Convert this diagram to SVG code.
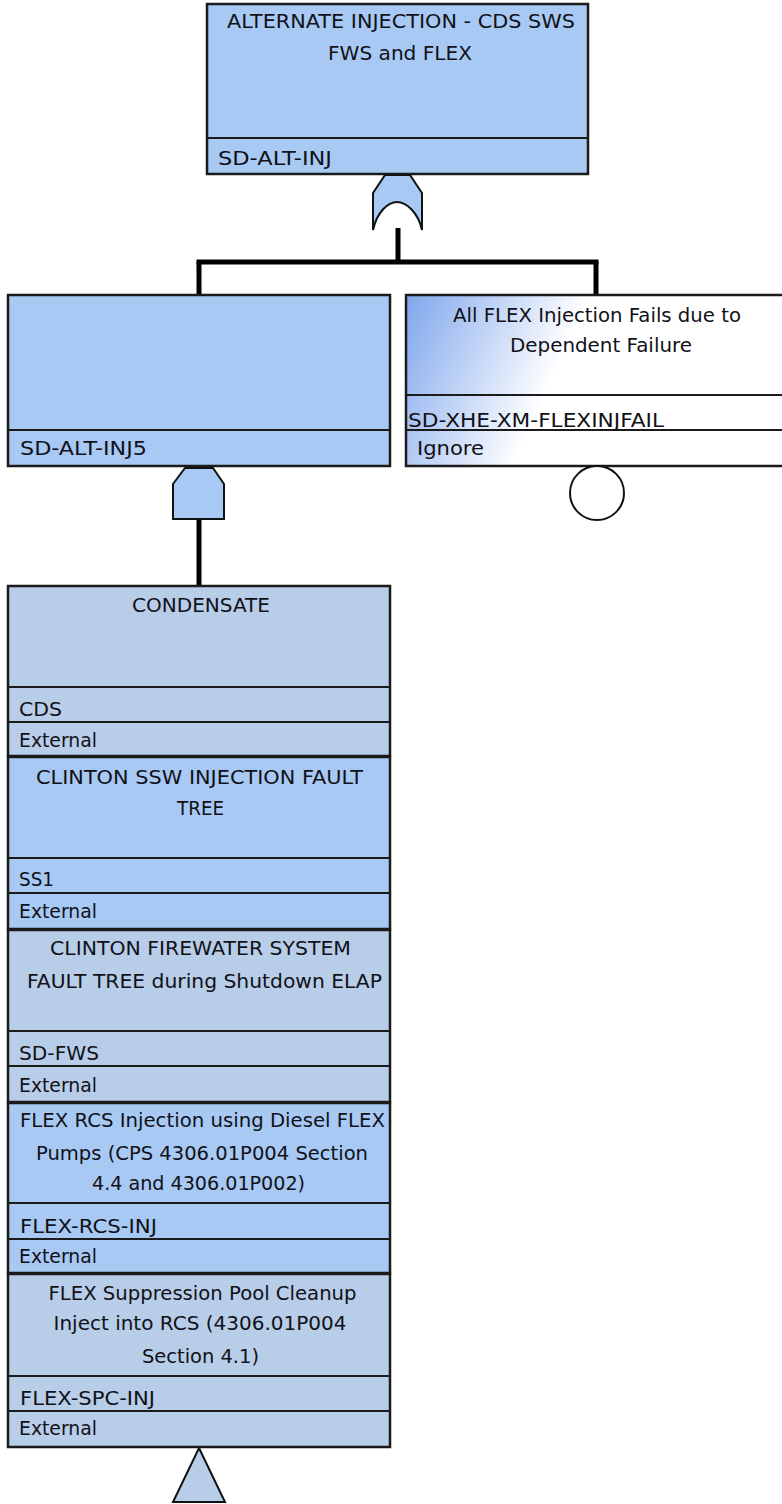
<svg xmlns="http://www.w3.org/2000/svg" width="782" height="1504" viewBox="0 0 782 1504">
<defs>
<linearGradient id="fade" gradientUnits="userSpaceOnUse" x1="406" y1="295" x2="560" y2="362">
<stop offset="0" stop-color="#7fa6ec"/>
<stop offset="1" stop-color="#ffffff"/>
</linearGradient>
<style>
.box{stroke:#1b1b1b;stroke-width:2.5}
.blue{fill:#a7c9f3}
.gray{fill:#b7cde8}
.div{stroke:#1b1b1b;stroke-width:2;fill:none}
.t{font-family:"DejaVu Sans",Verdana,sans-serif;font-size:20px;fill:#111118}
.c{text-anchor:middle}
.gate{stroke:#111;stroke-width:2}
.con{stroke:#000;stroke-width:5;fill:none;stroke-linecap:butt}
</style>
</defs>
<rect width="782" height="1504" fill="#ffffff"/>

<g id="connectors">
<line class="con" x1="398" y1="228" x2="398" y2="262"/>
<line class="con" x1="196.5" y1="262" x2="598.5" y2="262"/>
<line class="con" x1="199" y1="262" x2="199" y2="294"/>
<line class="con" x1="596" y1="262" x2="596" y2="294"/>
<line class="con" x1="199" y1="519" x2="199" y2="586"/>
</g>

<g id="node-sd-alt-inj">
<rect class="box blue" x="207" y="4" width="381" height="170"/>
<line class="div" x1="207" y1="138" x2="588" y2="138"/>
<text class="t c" x="401" y="28" textLength="348" lengthAdjust="spacingAndGlyphs">ALTERNATE INJECTION - CDS SWS</text>
<text class="t c" x="400" y="60" textLength="144" lengthAdjust="spacingAndGlyphs">FWS and FLEX</text>
<text class="t" x="218" y="165" textLength="114" lengthAdjust="spacingAndGlyphs">SD-ALT-INJ</text>
<path class="gate blue" d="M385,175 L410,175 L422,193 L422,230 C418,212 406,202 397,202 C388,202 377,212 373,230 L373,193 Z"/>
</g>

<g id="node-sd-alt-inj5">
<rect class="box blue" x="8" y="295" width="382" height="171"/>
<line class="div" x1="8" y1="430" x2="390" y2="430"/>
<text class="t" x="20" y="455" textLength="127" lengthAdjust="spacingAndGlyphs">SD-ALT-INJ5</text>
<path class="gate blue" d="M185,468 L213,468 L224,484 L224,519 L173,519 L173,484 Z"/>
</g>

<g id="node-sd-xhe-xm-flexinjfail">
<rect class="box" fill="url(#fade)" x="406" y="295" width="384" height="171"/>
<line class="div" x1="406" y1="395" x2="790" y2="395"/>
<line class="div" x1="406" y1="430" x2="790" y2="430"/>
<text class="t c" x="597" y="322" textLength="288" lengthAdjust="spacingAndGlyphs">All FLEX Injection Fails due to</text>
<text class="t c" x="601" y="352" textLength="182" lengthAdjust="spacingAndGlyphs">Dependent Failure</text>
<text class="t" x="408" y="427" textLength="256" lengthAdjust="spacingAndGlyphs">SD-XHE-XM-FLEXINJFAIL</text>
<text class="t" x="417" y="455" textLength="67" lengthAdjust="spacingAndGlyphs">Ignore</text>
<circle class="gate" fill="#ffffff" cx="597" cy="493" r="27"/>
</g>

<g id="node-cds">
<rect class="box gray" x="8" y="586" width="382" height="170"/>
<line class="div" x1="8" y1="687" x2="390" y2="687"/>
<line class="div" x1="8" y1="722" x2="390" y2="722"/>
<text class="t c" x="201" y="612" textLength="138" lengthAdjust="spacingAndGlyphs">CONDENSATE</text>
<text class="t" x="19" y="716" textLength="43" lengthAdjust="spacingAndGlyphs">CDS</text>
<text class="t" x="19" y="747" textLength="78" lengthAdjust="spacingAndGlyphs">External</text>
</g>

<g id="node-ss1">
<rect class="box blue" x="8" y="757" width="382" height="172"/>
<line class="div" x1="8" y1="858" x2="390" y2="858"/>
<line class="div" x1="8" y1="893" x2="390" y2="893"/>
<text class="t c" x="199.5" y="784" textLength="327" lengthAdjust="spacingAndGlyphs">CLINTON SSW INJECTION FAULT</text>
<text class="t c" x="200.5" y="815" textLength="47" lengthAdjust="spacingAndGlyphs">TREE</text>
<text class="t" x="19" y="886" textLength="35" lengthAdjust="spacingAndGlyphs">SS1</text>
<text class="t" x="19" y="918" textLength="78" lengthAdjust="spacingAndGlyphs">External</text>
</g>

<g id="node-sd-fws">
<rect class="box gray" x="8" y="930" width="382" height="172"/>
<line class="div" x1="8" y1="1031" x2="390" y2="1031"/>
<line class="div" x1="8" y1="1066" x2="390" y2="1066"/>
<text class="t c" x="200.5" y="955" textLength="301" lengthAdjust="spacingAndGlyphs">CLINTON FIREWATER SYSTEM</text>
<text class="t c" x="204.5" y="988" textLength="355" lengthAdjust="spacingAndGlyphs">FAULT TREE during Shutdown ELAP</text>
<text class="t" x="19" y="1060" textLength="80" lengthAdjust="spacingAndGlyphs">SD-FWS</text>
<text class="t" x="19" y="1092" textLength="78" lengthAdjust="spacingAndGlyphs">External</text>
</g>

<g id="node-flex-rcs-inj">
<rect class="box blue" x="8" y="1103" width="382" height="170"/>
<line class="div" x1="8" y1="1203" x2="390" y2="1203"/>
<line class="div" x1="8" y1="1239" x2="390" y2="1239"/>
<text class="t c" x="202.5" y="1127" textLength="365" lengthAdjust="spacingAndGlyphs">FLEX RCS Injection using Diesel FLEX</text>
<text class="t c" x="202" y="1160" textLength="332" lengthAdjust="spacingAndGlyphs">Pumps (CPS 4306.01P004 Section</text>
<text class="t c" x="198.5" y="1190" textLength="213" lengthAdjust="spacingAndGlyphs">4.4 and 4306.01P002)</text>
<text class="t" x="20" y="1233" textLength="137" lengthAdjust="spacingAndGlyphs">FLEX-RCS-INJ</text>
<text class="t" x="19" y="1263" textLength="78" lengthAdjust="spacingAndGlyphs">External</text>
</g>

<g id="node-flex-spc-inj">
<rect class="box gray" x="8" y="1274" width="382" height="173"/>
<line class="div" x1="8" y1="1376" x2="390" y2="1376"/>
<line class="div" x1="8" y1="1411" x2="390" y2="1411"/>
<text class="t c" x="202.5" y="1300" textLength="308" lengthAdjust="spacingAndGlyphs">FLEX Suppression Pool Cleanup</text>
<text class="t c" x="200" y="1330" textLength="293" lengthAdjust="spacingAndGlyphs">Inject into RCS  (4306.01P004</text>
<text class="t c" x="200.5" y="1363" textLength="117" lengthAdjust="spacingAndGlyphs">Section 4.1)</text>
<text class="t" x="20" y="1405" textLength="135" lengthAdjust="spacingAndGlyphs">FLEX-SPC-INJ</text>
<text class="t" x="19" y="1435" textLength="78" lengthAdjust="spacingAndGlyphs">External</text>
<path class="gate gray" d="M199,1448 L225,1502 L173,1502 Z"/>
</g>
</svg>
